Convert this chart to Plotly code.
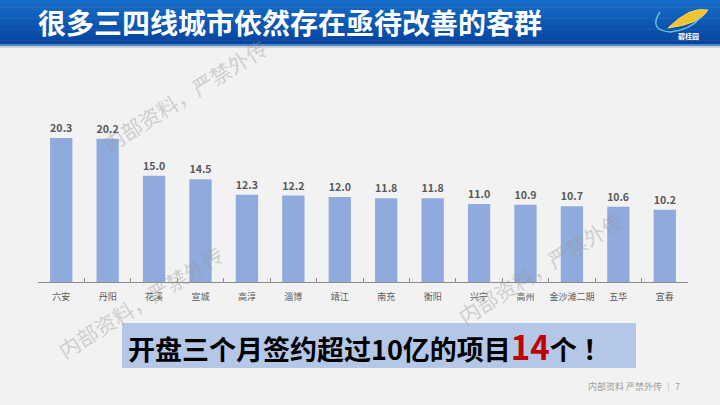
import plotly.graph_objects as go

categories = ["六安", "丹阳", "花溪", "宣城", "高淳", "淄博", "靖江", "南充", "衡阳", "兴宁", "高州", "金沙滩二期", "五华", "宜春"]
values = [20.3, 20.2, 15.0, 14.5, 12.3, 12.2, 12.0, 11.8, 11.8, 11.0, 10.9, 10.7, 10.6, 10.2]
title_text = "很多三四线城市依然存在亟待改善的客群"
footer_text = "内部资料 严禁外传 │ 7"
watermark_text = "内部资料，严禁外传"

W, H = 720, 405

def py(p):
    return 1 - p / H

def px(p):
    return p / W

fig = go.Figure()
fig.add_trace(go.Bar(
    x=categories, y=values,
    marker=dict(color="#8faadc", line=dict(width=0)),
    text=[f"{v:.1f}" for v in values],
    textposition="outside",
    textfont=dict(family="Noto Sans CJK SC", size=11, color="#595959", weight="bold"),
    cliponaxis=False,
    hoverinfo="skip",
))

shapes = []
shapes.append(dict(type="rect", xref="paper", yref="paper", x0=0, x1=1, y0=0, y1=1,
                   fillcolor="#f2f2f2", line=dict(width=0), layer="below"))
top_c = (22, 108, 200)
bot_c = (6, 70, 160)
n = 12
bar_h = 44
for i in range(n):
    t = i / (n - 1)
    c = tuple(int(top_c[k] + (bot_c[k] - top_c[k]) * t) for k in range(3))
    y0 = bar_h * i / n
    y1 = bar_h * (i + 1) / n + 0.5
    shapes.append(dict(type="rect", xref="paper", yref="paper", x0=0, x1=1,
                       y0=py(y1), y1=py(y0), fillcolor="rgb(%d,%d,%d)" % c,
                       line=dict(width=0), layer="below"))
shapes.append(dict(type="rect", xref="paper", yref="paper", x0=0, x1=1,
                   y0=py(46), y1=py(44), fillcolor="#4f86c6", line=dict(width=0), layer="below"))
shapes.append(dict(type="rect", xref="paper", yref="paper", x0=0, x1=1,
                   y0=py(48), y1=py(46), fillcolor="#d0d4da", line=dict(width=0), layer="below"))
shapes.append(dict(type="path", xref="paper", yref="paper",
                   path=f"M {px(668)} {py(28)} Q {px(690)} {py(6)} {px(708)} {py(10)} Q {px(700)} {py(24)} {px(668)} {py(28)} Z",
                   fillcolor="#f2c230", line=dict(color="#f7d560", width=1)))
shapes.append(dict(type="path", xref="paper", yref="paper",
                   path=f"M {px(660)} {py(12)} Q {px(648)} {py(30)} {px(670)} {py(32)} Q {px(690)} {py(30)} {px(700)} {py(18)}",
                   line=dict(color="#5fc6d8", width=1.5)))
shapes.append(dict(type="rect", xref="paper", yref="paper", x0=px(122), x1=px(636),
                   y0=py(368), y1=py(323), fillcolor="#b4c7e7", line=dict(width=0), layer="below"))

annotations = []
annotations.append(dict(text=title_text, xref="paper", yref="paper", x=px(36), y=py(22),
                        xanchor="left", yanchor="middle", showarrow=False,
                        font=dict(family="Noto Sans CJK SC", size=28, color="white", weight="bold")))
annotations.append(dict(text="碧桂园", xref="paper", yref="paper", x=px(688), y=py(36),
                        xanchor="center", yanchor="middle", showarrow=False,
                        font=dict(family="Noto Sans CJK SC", size=7, color="white", weight="bold")))
annotations.append(dict(
    text="开盘三个月签约超过10亿的项目<span style='color:#c00000;font-size:33px'>14</span>个 ！",
    xref="paper", yref="paper", x=px(126), y=py(346), xanchor="left", yanchor="middle",
    showarrow=False, font=dict(family="Noto Sans CJK SC", size=27, color="#000000", weight="bold")))
annotations.append(dict(text=footer_text, xref="paper", yref="paper", x=px(682), y=py(386),
                        xanchor="right", yanchor="middle", showarrow=False,
                        font=dict(family="Noto Sans CJK SC", size=9, color="#a0a0a0")))
for (cx, cy) in [(185, 95), (140, 302), (540, 268)]:
    annotations.append(dict(text=watermark_text, xref="paper", yref="paper", x=px(cx), y=py(cy),
                            xanchor="center", yanchor="middle", showarrow=False, textangle=-32,
                            opacity=0.4,
                            font=dict(family="Noto Sans CJK SC", size=21, color="#9a9a9a")))

fig.update_layout(
    width=W, height=H,
    margin=dict(l=0, r=0, t=0, b=0),
    paper_bgcolor="#f2f2f2",
    plot_bgcolor="rgba(0,0,0,0)",
    showlegend=False,
    bargap=0.52,
    shapes=shapes,
    annotations=annotations,
    xaxis=dict(domain=[px(38), px(688)], showline=True, linecolor="#8c8c8c", linewidth=1,
               ticks="inside", tickson="boundaries", ticklen=4, tickcolor="#8c8c8c",
               tickangle=0, automargin=False, ticklabelstandoff=6,
               tickfont=dict(family="Noto Sans CJK SC", size=9, color="#595959"),
               showgrid=False, zeroline=False, fixedrange=True),
    yaxis=dict(domain=[py(282), py(100)], range=[0, 182 / 7.09], visible=False,
               automargin=False,
               showgrid=False, zeroline=False, fixedrange=True),
)

fig.write_html("out.html", config={"displayModeBar": False, "staticPlot": True},
               post_script="document.body.style.margin='0';document.body.style.overflow='hidden';")
